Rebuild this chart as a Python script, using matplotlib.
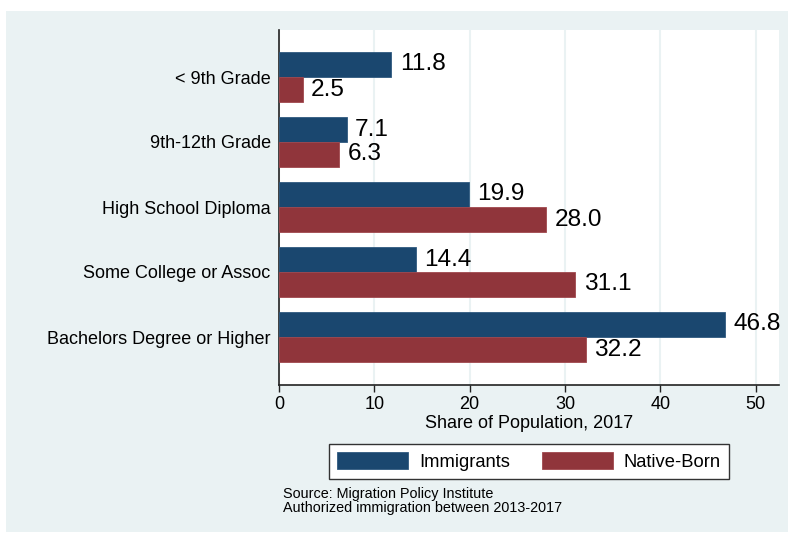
import matplotlib
matplotlib.use("Agg")
import matplotlib.pyplot as plt
import numpy as np
from matplotlib.patches import Rectangle

plt.rcParams['font.family'] = ['Liberation Sans', 'DejaVu Sans']

categories = ["< 9th Grade", "9th-12th Grade", "High School Diploma",
              "Some College or Assoc", "Bachelors Degree or Higher"]
immigrants = [11.8, 7.1, 19.9, 14.4, 46.8]
native_born = [2.5, 6.3, 28.0, 31.1, 32.2]
series_names = ["Immigrants", "Native-Born"]
xticks = [0, 10, 20, 30, 40, 50]

BLUE = "#1a476f"
RED = "#90353b"
BG = "#eaf2f3"

W, H = 788, 533
fig = plt.figure(figsize=(W / 100, H / 100), dpi=100, facecolor="white")
fig.patches.append(Rectangle((6 / W, 1 / H), 1 - 6 / W, (532 - 11) / H,
                             transform=fig.transFigure, facecolor=BG,
                             edgecolor="none", zorder=-10))

ax = fig.add_axes([279 / W, 1 - 385 / H, (779 - 279) / W, (385 - 30) / H])
ax.set_facecolor("white")

y = np.arange(len(categories))
h = 25 / 65
b1 = ax.barh(y - h / 2, immigrants, height=h, color=BLUE, edgecolor="#2f5a80",
             linewidth=0.6, label=series_names[0], zorder=3)
b2 = ax.barh(y + h / 2, native_born, height=h, color=RED, edgecolor="#a0484e",
             linewidth=0.6, label=series_names[1], zorder=3)

for bars, vals in ((b1, immigrants), (b2, native_born)):
    for rect, v in zip(bars, vals):
        ax.annotate(f"{v:.1f}", (v, rect.get_y() + rect.get_height() / 2),
                    xytext=(6, 0), textcoords="offset points",
                    ha="left", va="center", fontsize=17.6, color="black", zorder=4)

ax.set_xlim(0, 52.45)
ax.set_ylim(4 + 48 / 65, -47 / 65)
ax.set_xticks(xticks)
ax.set_xticklabels([str(t) for t in xticks], fontsize=13)
ax.set_yticks(y)
ax.set_yticklabels(categories, fontsize=13)
ax.tick_params(axis="y", length=0, pad=6)
ax.tick_params(axis="x", length=5, width=1, direction="out", pad=3, color="#222222")
ax.xaxis.grid(True, color=BG, linewidth=1.5, zorder=0)
ax.set_axisbelow(True)
for s in ("top", "right"):
    ax.spines[s].set_visible(False)
for s in ("left", "bottom"):
    ax.spines[s].set_color("#222222")
    ax.spines[s].set_linewidth(1.2)
ax.set_xlabel("Share of Population, 2017", fontsize=13, labelpad=1)

leg = fig.legend(handles=[b1, b2], labels=series_names, loc="center",
                 bbox_to_anchor=(529 / W, 1 - 461.5 / H), ncol=2, fontsize=13.2,
                 handlelength=3.85, handleheight=1.05, handletextpad=0.6,
                 columnspacing=1.75, borderpad=0.45, fancybox=False,
                 frameon=True, framealpha=1, edgecolor="#333333")
leg.get_frame().set_linewidth(1.0)

fig.text(283 / W, 1 - 494 / H, "Source: Migration Policy Institute",
         fontsize=10.4, va="center", ha="left")
fig.text(283 / W, 1 - 508 / H, "Authorized immigration between 2013-2017",
         fontsize=10.4, va="center", ha="left")

fig.savefig("out.png", dpi=100, facecolor="white")
